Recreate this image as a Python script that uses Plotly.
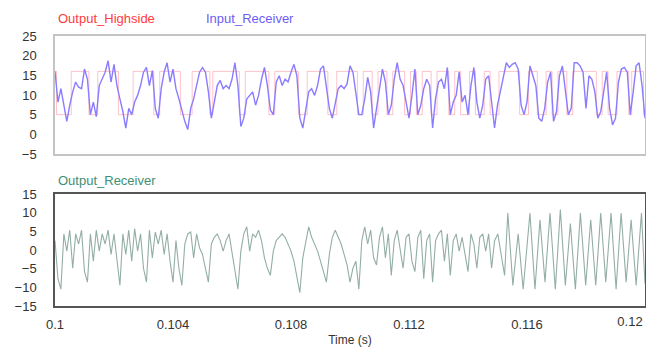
import numpy as np
import plotly.graph_objects as go

# ---------------- data ----------------
T_START = 0.1
T_STEP = 0.0001          # sampling step of the uniformly sampled traces (s)

# Input_Receiver (blue), sampled every T_STEP from 0.1 s to 0.12 s
INPUT_RECEIVER = [
    16, 8.2, 11.6, 7.4, 3.3, 7.4, 10.8, 13.3, 12, 11.6,
    16.6, 14, 5, 8.2, 4.5, 12.4, 14, 15.8, 18.7, 13.3,
    17.8, 12.4, 9, 5.8, 1.6, 6.6, 5, 8.2, 9.9, 12.4,
    15.8, 17, 12.4, 16.2, 6.6, 4.1, 11.6, 15.8, 18.2, 13.3,
    16.6, 11.6, 9, 5.8, 3.3, 1.2, 6.6, 9, 12.4, 15.8,
    17, 15.8, 10.8, 4.1, 8.2, 12.4, 13.7, 11.6, 12.4, 11.6,
    14, 18.2, 12.4, 2, 4.1, 9, 9.9, 10.8, 7.4, 9.9,
    14, 17, 12.4, 6.2, 5, 13.3, 14.9, 12.4, 14, 13.3,
    15.8, 17.8, 14.9, 4.1, 1.6, 5.8, 10.8, 11.6, 9.9, 12.4,
    16.6, 17.4, 12.4, 6.6, 4.1, 8.2, 11.6, 12.4, 11.6, 12.8,
    17.4, 15.8, 10.8, 5, 5, 9, 14.5, 10.8, 1.6, 6.6,
    11.6, 16.6, 13.3, 5, 7.4, 14, 18.2, 14, 12.4, 8.2,
    4.1, 9.9, 16.6, 5, 7.4, 11.6, 14, 12.4, 1.6, 9,
    13.3, 14, 11.6, 17, 5, 8.2, 9.9, 15.8, 8.2, 9.9,
    5, 12.4, 17, 8.2, 4.1, 7.4, 14, 14.9, 7.4, 1.6,
    7.4, 10.8, 14.9, 18.2, 17, 17.8, 18.2, 16.6, 7.4, 5,
    8.2, 17.4, 14.9, 12.4, 4.1, 3.3, 6.6, 13.3, 15.8, 3.3,
    5.8, 14.9, 17.4, 10.8, 5, 6.6, 18.2, 18.2, 17.4, 15.8,
    6.6, 14.9, 14, 10.8, 4.1, 5.8, 10.8, 15.8, 6.6, 2.4,
    4.1, 13.3, 16.6, 17, 15.8, 5, 10.8, 17.4, 18.2, 12.4,
    4.1,
]

# Output_Highside (red): switching instants and the level held after each
HIGHSIDE_EDGE_TIMES = [
    0.1, 0.10005, 0.10055, 0.10115, 0.10145, 0.10215, 0.10265, 0.10335,
    0.10355, 0.10425, 0.10465, 0.10525, 0.10535, 0.10625, 0.10645, 0.10725,
    0.10745, 0.10825, 0.10855, 0.10925, 0.10955, 0.11025, 0.11045, 0.11075,
    0.11095, 0.11125, 0.11145, 0.11185, 0.11205, 0.11225, 0.11245, 0.11275,
    0.11295, 0.11335, 0.11355, 0.11375, 0.11405, 0.11425, 0.11455, 0.11475,
    0.11505, 0.11575, 0.11605, 0.11635, 0.11665, 0.11685, 0.11705, 0.11735,
    0.11755, 0.11835, 0.11855, 0.11875, 0.11905, 0.11945, 0.11955, 0.11995,
    0.12,
]
HIGHSIDE_LEVELS = [
    16, 5, 16, 5, 16, 5, 16, 5,
    16, 5, 16, 5, 16, 5, 16, 5,
    16, 5, 16, 5, 16, 5, 16, 5,
    16, 5, 16, 5, 16, 5, 16, 5,
    16, 5, 16, 5, 16, 5, 16, 5,
    16, 5, 16, 5, 16, 5, 16, 5,
    16, 5, 16, 5, 16, 5, 16, 5,
    5,
]

# Output_Receiver (green), part A sampled every T_STEP from 0.1 s (150 samples)
OUTPUT_RECEIVER_A = [
    2.5, -7.7, -10.5, 4.3, -0.3, 5.3, -4.9, 4.3, 1.6, 5.3,
    -5.8, -8.6, 4.3, -3, 5.3, -0.3, 4.3, 1.6, 5.3, -1.2,
    4.3, -3, -9.5, 4.3, -1.2, 5.3, -3, 5.7, -0.3, 4.3,
    -4.9, -8.6, 5.3, -2.1, 4.8, 1.6, 5.3, -1.2, 4.3, -3,
    -8.6, 2.5, -4.9, -9.5, 1.6, 4.3, 4.8, -2.1, 4.3, 0.6,
    -1.2, -4.9, -8.6, 1.6, 3.4, 4.3, 2.5, -0.3, 2.5, 4.3,
    -0.3, -4.9, -10.5, -0.3, 4.3, 6.2, -0.3, 4.3, 3.4, 5.3,
    2.5, -2.1, -4.9, -6.8, -0.3, 2.5, 3.4, 4.3, 3.4, 1.6,
    -0.3, -3, -6.8, -11.4, -2.1, 2.5, 6.2, 3.4, 1.6, -0.3,
    -3, -5.8, -8.6, -1.2, 3.4, 5.3, 3.4, 1.6, -1.2, -4,
    -8.6, -4.9, -3, -10.5, 2.5, 6.2, 1.6, 5.3, -2.1, -4,
    3.4, 6.2, -2.1, 4.3, -6.8, 2.5, 5.3, -0.3, -4.9, 3.4,
    4.3, -3, -5.8, 3.4, 5.3, -7.7, 2.5, 4.3, -8.6, 2.5,
    4.3, 5.3, -3, 4.3, -6.8, 2.5, 4.3, -0.3, 3.4, -1.2,
    -5.8, 4.3, 1.6, -4.9, 3.4, 4.3, -0.3, 4.3, -4.9, 2.5,
]
# Output_Receiver part B: turning points after 0.115 s
OUTPUT_RECEIVER_B_TIMES = [
    0.11501, 0.11524, 0.11535, 0.11552, 0.11570, 0.11587, 0.11610, 0.11627,
    0.11644, 0.11661, 0.11678, 0.11696, 0.11713, 0.11730, 0.11747, 0.11764,
    0.11781, 0.11799, 0.11816, 0.11833, 0.11850, 0.11867, 0.11885, 0.11902,
    0.11919, 0.11936, 0.11953, 0.11970, 0.11988, 0.12000,
]
OUTPUT_RECEIVER_B = [
    4.3, -6.8, 9.9, -9.5, 4.3, -10.5, 9.9, -10.5,
    8.1, -8.6, 9.9, -10.5, 10.8, -9.5, 7.1, -10.5,
    9.9, -9.5, 8.1, -9.5, 9.9, -8.6, 9.9, -10.5,
    9.9, -8.6, 8.1, -9.5, 9.9, -9.0,
]

X_TICKS = [0.1, 0.104, 0.108, 0.112, 0.116, 0.12]
X_TICK_TEXT = ["0.1", "0.104", "0.108", "0.112", "0.116", "0.12"]
TOP_Y_TICKS = [-5, 0, 5, 10, 15, 20, 25]
BOT_Y_TICKS = [-15, -10, -5, 0, 5, 10, 15]

# ---------------- figure ----------------
t_blue = T_START + T_STEP * np.arange(len(INPUT_RECEIVER))
t_green = np.concatenate([T_START + T_STEP * np.arange(len(OUTPUT_RECEIVER_A)),
                          np.array(OUTPUT_RECEIVER_B_TIMES)])
v_green = list(OUTPUT_RECEIVER_A) + list(OUTPUT_RECEIVER_B)

RED = "#ff3b3b"
BLUE = "#6f5cf5"
GREEN = "#3f8f73"
FONT = "Liberation Sans, Arial, sans-serif"
X_RANGE = [0.1, 0.12]
ML, MR, MT, MB = 55, 1, 36, 46
PW, PH = 646 - ML - MR, 352 - MT - MB

fig = go.Figure()
fig.add_trace(go.Scatter(x=HIGHSIDE_EDGE_TIMES, y=HIGHSIDE_LEVELS, mode="lines",
                         line=dict(color="rgba(255,120,140,0.45)", width=1, shape="hv"),
                         xaxis="x", yaxis="y", name="Output_Highside"))
fig.add_trace(go.Scatter(x=t_blue, y=INPUT_RECEIVER, mode="lines",
                         line=dict(color="#8a7cff", width=1.4),
                         xaxis="x", yaxis="y", name="Input_Receiver"))
fig.add_trace(go.Scatter(x=t_green, y=v_green, mode="lines",
                         line=dict(color="#93aea4", width=1.1),
                         xaxis="x2", yaxis="y2", name="Output_Receiver"))

axis_font = dict(family=FONT, size=13, color="#333333")
common_x = dict(range=X_RANGE, showgrid=False, zeroline=False, mirror=True,
                showline=True, ticks="", tickfont=axis_font, automargin=False)
fig.update_layout(
    width=646, height=352,
    margin=dict(l=ML, r=MR, t=MT, b=MB),
    paper_bgcolor="white", plot_bgcolor="white",
    showlegend=False,
    font=dict(family=FONT, size=13, color="#333333"),
    xaxis=dict(common_x, anchor="y", showticklabels=False,
               tickvals=X_TICKS, linecolor="#c4c4c4", linewidth=1.5),
    yaxis=dict(domain=[0.563, 1.0], range=[-5, 25], tickvals=TOP_Y_TICKS,
               showgrid=False, zeroline=False, showline=True, mirror=True,
               linecolor="#c4c4c4", linewidth=1.5, ticks="", automargin=False,
               ticklabelstandoff=14, tickfont=axis_font),
    xaxis2=dict(common_x, anchor="y2", showticklabels=True,
                tickvals=X_TICKS[:-1], ticktext=X_TICK_TEXT[:-1],
                linecolor="#555555", linewidth=1.5, ticklabelstandoff=6,
                title=dict(text="Time (s)", font=dict(family=FONT, size=12, color="#333333"),
                           standoff=4)),
    # last tick label, nudged left so that it stays inside the page
    xaxis3=dict(range=X_RANGE, overlaying="x2", anchor="y2", side="bottom",
                showgrid=False, zeroline=False, showline=False, ticks="",
                tickvals=X_TICKS[-1:], ticktext=X_TICK_TEXT[-1:],
                tickfont=axis_font, ticklabelstandoff=6, ticklabelshift=-15,
                ticklabeloverflow="allow", automargin=False),
    yaxis2=dict(domain=[0.0, 0.415], range=[-15, 15], tickvals=BOT_Y_TICKS,
                showgrid=False, zeroline=False, showline=True, mirror=True,
                linecolor="#555555", linewidth=1.5, ticks="", automargin=False,
                ticklabelstandoff=14, tickfont=axis_font),
)
# invisible trace to activate xaxis3
fig.add_trace(go.Scatter(x=X_RANGE, y=[0, 0], mode="lines", line=dict(width=0),
                         hoverinfo="skip", xaxis="x3", yaxis="y2", showlegend=False,
                         opacity=0))

def label(text, x_px, y_px, color):
    fig.add_annotation(text=text, xref="paper", yref="paper",
                       x=(x_px - ML) / PW, y=(352 - MB - y_px) / PH,
                       xanchor="left", yanchor="middle", showarrow=False,
                       font=dict(family=FONT, size=13, color=color))

label("Output_Highside", 56, 18, RED)
label("Input_Receiver", 204, 18, BLUE)
label("Output_Receiver", 56, 180, GREEN)

fig.write_html("out.html")
